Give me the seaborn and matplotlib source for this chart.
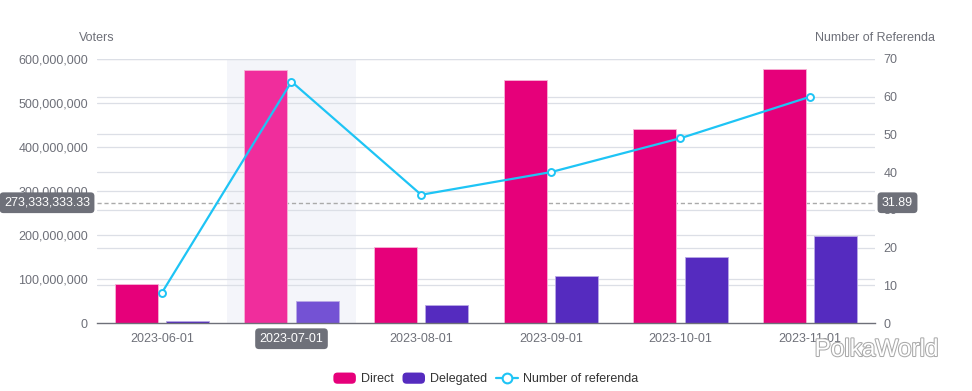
import numpy as np
import pandas as pd
import matplotlib
matplotlib.use("Agg")
import matplotlib.pyplot as plt
import matplotlib.patheffects as pe
from matplotlib.patches import Patch, FancyBboxPatch
from matplotlib.lines import Line2D
from matplotlib.legend_handler import HandlerPatch
from matplotlib.ticker import FuncFormatter, MultipleLocator
import seaborn as sns

months = ["2023-06-01", "2023-07-01", "2023-08-01", "2023-09-01", "2023-10-01", "2023-11-01"]
direct = [88e6, 576e6, 172e6, 552e6, 440e6, 577e6]
delegated = [5e6, 51e6, 40e6, 106e6, 149e6, 198e6]
referenda = [8, 64, 34, 40, 49, 60]
cross_left = 273333333.33
cross_right = 31.89

C_DIRECT = "#e6007a"
C_DELEG = "#552bbf"
C_DIRECT_HL = "#f02d9c"
C_DELEG_HL = "#7452d4"
C_LINE = "#1ec4f5"
C_TEXT = "#6e7079"
C_GRID = "#dcdfe6"

sns.set_theme(style="white")
plt.rcParams["font.family"] = ["Liberation Sans", "DejaVu Sans"]

df = pd.DataFrame({
    "month": months * 2,
    "value": direct + delegated,
    "type": ["Direct"] * len(months) + ["Delegated"] * len(months),
})

fig = plt.figure(figsize=(9.72, 3.91), dpi=100)
ax = fig.add_axes([97 / 972, 1 - 323 / 391, (875 - 97) / 972, (323 - 59) / 391])

LMAX = 600e6
RMAX = 70

# highlight band
ax.axvspan(0.5, 1.5, color="#f4f5fa", zorder=0, lw=0)

# gridlines (left and right scales), drawn behind bars
for v in np.arange(100e6, LMAX + 1, 100e6):
    ax.axhline(v, color=C_GRID, lw=0.9, zorder=0.5)
for v in np.arange(10, RMAX + 1, 10):
    ax.axhline(v * LMAX / RMAX, color=C_GRID, lw=0.9, zorder=0.5)

# crosshair
ax.axhline(cross_left, color="#aaaaaa", lw=1, ls=(0, (3, 2)), zorder=0.8)

sns.barplot(data=df, x="month", y="value", hue="type",
            palette={"Direct": C_DIRECT, "Delegated": C_DELEG}, saturation=1,
            width=0.79, gap=0.16, ax=ax, legend=False, zorder=2,
            edgecolor="#f7b3d6", linewidth=0.6)
for i, cont in enumerate(ax.containers):
    for j, bar in enumerate(cont):
        if i == 1:
            bar.set_edgecolor("#b9a9e6")
        if j == 1:
            bar.set_facecolor(C_DIRECT_HL if i == 0 else C_DELEG_HL)

ax.set_xlim(-0.5, len(months) - 0.5)
ax.set_ylim(0, LMAX)
ax.yaxis.set_major_locator(MultipleLocator(100e6))
ax.yaxis.set_major_formatter(FuncFormatter(lambda v, p: f"{int(v):,}"))
ax.set_xlabel("")
ax.set_ylabel("")
for s in ["top", "right", "left"]:
    ax.spines[s].set_visible(False)
ax.spines["bottom"].set_color(C_TEXT)
ax.spines["bottom"].set_linewidth(1)
ax.tick_params(axis="y", length=0, labelsize=9, colors=C_TEXT, pad=6.5)
ax.tick_params(axis="x", which="major", length=0, labelsize=9, colors=C_TEXT, pad=7)
ax.set_xticks(np.arange(-0.5, len(months), 1), minor=True)
ax.tick_params(axis="x", which="minor", length=5, color=C_TEXT, width=1)
ax.set_xticks(range(len(months)))
ax.set_xticklabels(months)
lab = ax.get_xticklabels()[1]
lab.set_color("white")
lab.set_bbox(dict(boxstyle="round,pad=0.35,rounding_size=0.3", fc=C_TEXT, ec="none"))

# right axis with line
ax2 = ax.twinx()
sns.lineplot(x=np.arange(len(months)), y=referenda, ax=ax2, color=C_LINE, lw=1.6,
             marker="o", markersize=5, markerfacecolor="white",
             markeredgecolor=C_LINE, markeredgewidth=1.4, zorder=5)
ax2.set_ylim(0, RMAX)
ax2.yaxis.set_major_locator(MultipleLocator(10))
for s in ["top", "right", "left", "bottom"]:
    ax2.spines[s].set_visible(False)
ax2.tick_params(axis="y", length=0, labelsize=9, colors=C_TEXT, pad=6)
ax2.grid(False)
ax.set_xlim(-0.5, len(months) - 0.5)

# axis names
fig.text(97 / 972, 1 - 38 / 391, "Voters", ha="center", va="center", fontsize=9, color=C_TEXT)
fig.text(875 / 972, 1 - 38 / 391, "Number of Referenda", ha="center", va="center", fontsize=9, color=C_TEXT)

# crosshair labels
ax.annotate(f"{cross_left:,.2f}", xy=(0, cross_left), xycoords=("axes fraction", "data"),
            xytext=(-5, 0), textcoords="offset points", ha="right", va="center",
            fontsize=9, color="white", zorder=10, annotation_clip=False,
            bbox=dict(boxstyle="round,pad=0.35,rounding_size=0.3", fc=C_TEXT, ec="none"))
ax2.annotate(f"{cross_right:.2f}", xy=(1, cross_right), xycoords=("axes fraction", "data"),
             xytext=(5, 0), textcoords="offset points", ha="left", va="center",
             fontsize=9, color="white", zorder=10, annotation_clip=False,
             bbox=dict(boxstyle="round,pad=0.35,rounding_size=0.3", fc=C_TEXT, ec="none"))


class HandlerRound(HandlerPatch):
    def create_artists(self, legend, orig_handle, xdescent, ydescent, width, height, fontsize, trans):
        p = FancyBboxPatch((-xdescent, -ydescent), width, height,
                           boxstyle="round,pad=0,rounding_size=3",
                           fc=orig_handle.get_facecolor(), ec="none", transform=trans)
        return [p]


handles = [Patch(fc=C_DIRECT, label="Direct"),
           Patch(fc=C_DELEG, label="Delegated"),
           Line2D([], [], color=C_LINE, lw=1.6, marker="o", markersize=7,
                  markerfacecolor="white", markeredgecolor=C_LINE, markeredgewidth=1.5,
                  label="Number of referenda")]
leg = fig.legend(handles=handles, loc="center", bbox_to_anchor=(486 / 972, 1 - 379 / 391),
                 ncol=3, frameon=False, fontsize=9, handlelength=1.8, handleheight=1.0,
                 handletextpad=0.4, columnspacing=0.7,
                 handler_map={Patch: HandlerRound()})
for t in leg.get_texts():
    t.set_color("#333333")

# watermark
fig.text(938 / 972, 1 - 350 / 391, "PolkaWorld", ha="right", va="center", fontsize=17.5,
         color="white", path_effects=[pe.withStroke(linewidth=1.5, foreground="#aaaaaa")])

fig.savefig("out.png", dpi=100)
